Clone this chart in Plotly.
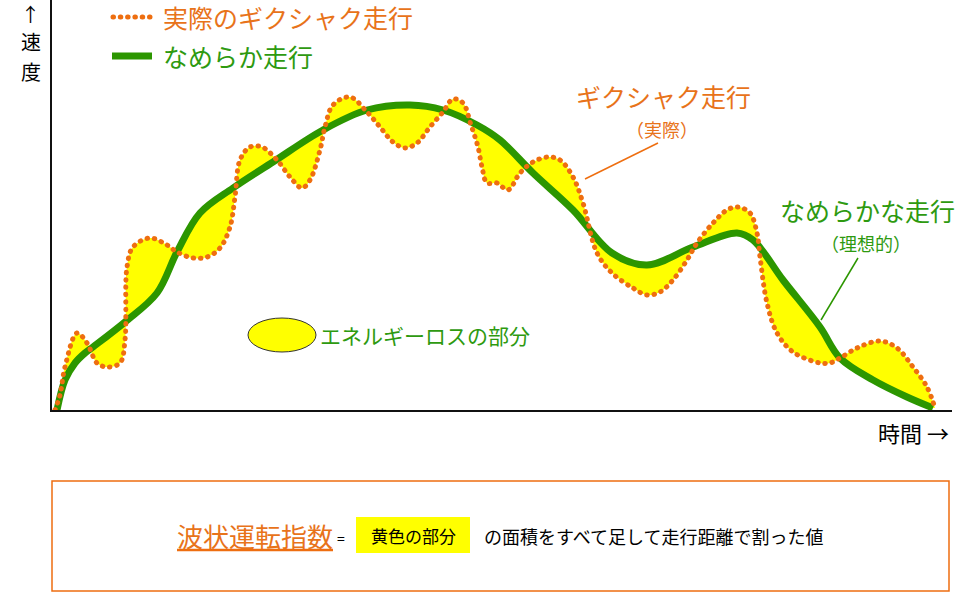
import plotly.graph_objects as go

W, H = 980, 616

# ---- data (time units along x, speed units along y) ----
smooth_t = [5, 13, 23, 33, 41, 73, 105, 125, 148, 181, 221, 271, 315, 358, 391, 425, 448,
            481, 521, 560, 595, 641, 685, 701, 731, 768, 788, 821, 855, 881]
smooth_v = [0, 30, 47, 57, 63, 88, 117, 158, 197, 222, 248, 280, 300, 305, 300, 285, 270,
            237, 200, 157, 145, 163, 177, 170, 130, 83, 52, 30, 13, 2]

jerky_t = [3, 8, 13, 25, 35, 45, 55, 68, 73, 75, 81, 98, 115, 125, 141, 155, 168, 178,
           183, 188, 198, 210, 225, 238, 250, 258, 268, 273, 281, 298, 315, 328, 341,
           353, 365, 378, 391, 401, 411, 419, 426, 430, 435, 445, 456, 468, 481, 496,
           508, 521, 531, 545, 560, 581, 595, 608, 621, 635, 645, 661, 675, 686, 698,
           705, 708, 715, 725, 741, 768, 778, 788, 805, 828, 845, 861, 875, 883]
jerky_v = [0, 15, 43, 77, 67, 47, 43, 47, 70, 143, 163, 172, 165, 158, 152, 153, 162, 183,
           213, 250, 263, 263, 250, 233, 222, 230, 260, 283, 305, 313, 298, 283, 268,
           262, 267, 283, 298, 311, 307, 285, 263, 243, 227, 227, 220, 237, 248, 253,
           250, 233, 207, 157, 137, 122, 115, 118, 130, 150, 167, 187, 200, 203, 197,
           177, 153, 107, 77, 58, 47, 47, 52, 62, 69, 62, 43, 23, 2]

legend_labels = ["実際のギクシャク走行", "なめらか走行"]
callout_jerky = ["ギクシャク走行", "（実際）"]
callout_smooth = ["なめらかな走行", "（理想的）"]
loss_label = "エネルギーロスの部分"
axis_y_label = ["↑", "速", "度"]
axis_x_label = "時間 →"
formula_parts = ["波状運転指数", "=", "黄色の部分", "の面積をすべて足して走行距離で割った値"]

# ---- styles ----
FONT = "Noto Sans CJK JP"
GREEN_LINE = "#2C9600"
GREEN_TEXT = "#2E9A10"
ORANGE_DOT = "#EE6E10"
ORANGE_TEXT = "#E8731A"
YELLOW = "#FFFF00"


def px(x):
    return x / W


def py(y):
    return 1 - y / H


fig = go.Figure()
fig.add_trace(go.Scatter(
    x=smooth_t, y=smooth_v, mode="lines",
    line=dict(color=GREEN_LINE, width=7, shape="spline", smoothing=1.0),
    hoverinfo="skip", showlegend=False))
fig.add_trace(go.Scatter(
    x=jerky_t, y=jerky_v, mode="lines", fill="tonexty", fillcolor=YELLOW,
    line=dict(color=ORANGE_DOT, width=5, shape="spline", smoothing=1.0, dash="0.5px,6.8px"),
    hoverinfo="skip", showlegend=False))

shapes = []
# legend samples
shapes.append(dict(type="line", xref="paper", yref="paper", x0=px(113), x1=px(150), y0=py(17), y1=py(17),
                   line=dict(color=ORANGE_DOT, width=5, dash="0.5px,6.8px")))
shapes.append(dict(type="line", xref="paper", yref="paper", x0=px(112), x1=px(152), y0=py(56), y1=py(56),
                   line=dict(color=GREEN_LINE, width=7)))
# leader lines
shapes.append(dict(type="line", xref="paper", yref="paper", x0=px(658), x1=px(585), y0=py(143), y1=py(179),
                   line=dict(color=ORANGE_DOT, width=1.5)))
shapes.append(dict(type="line", xref="paper", yref="paper", x0=px(858), x1=px(821), y0=py(258), y1=py(320),
                   line=dict(color=GREEN_LINE, width=1.5)))
# ellipse
shapes.append(dict(type="circle", xref="paper", yref="paper", x0=px(248), x1=px(316), y0=py(352), y1=py(318),
                   fillcolor=YELLOW, line=dict(color="#333333", width=1)))
# bottom box
shapes.append(dict(type="rect", xref="paper", yref="paper", x0=px(52), x1=px(949), y0=py(591), y1=py(481),
                   line=dict(color=ORANGE_DOT, width=1.5), fillcolor="rgba(0,0,0,0)"))
# underline
shapes.append(dict(type="line", xref="paper", yref="paper", x0=px(177), x1=px(333), y0=py(550), y1=py(550),
                   line=dict(color=ORANGE_DOT, width=2.5)))
# yellow highlight
shapes.append(dict(type="rect", xref="paper", yref="paper", x0=px(356), x1=px(470), y0=py(553), y1=py(517),
                   fillcolor=YELLOW, line=dict(width=0), layer="below"))

ann = []


def text(x, y, s, size, color, anchor="left", vanchor="middle"):
    ann.append(dict(xref="paper", yref="paper", x=px(x), y=py(y), text=s, showarrow=False,
                    xanchor=anchor, yanchor=vanchor,
                    font=dict(family=FONT, size=size, color=color)))


text(161, 17, legend_labels[0], 25, ORANGE_TEXT)
text(161, 56, legend_labels[1], 25, GREEN_TEXT)
text(663, 96, callout_jerky[0], 25, ORANGE_TEXT, "center")
text(662, 129, callout_jerky[1], 18, ORANGE_TEXT, "center")
text(867, 210, callout_smooth[0], 25, GREEN_TEXT, "center")
text(866, 243, callout_smooth[1], 18, GREEN_TEXT, "center")
text(318, 335, loss_label, 21, GREEN_TEXT)
text(31, 14, axis_y_label[0], 19, "#000000", "center")
text(31, 42, axis_y_label[1], 20, "#000000", "center")
text(31, 71, axis_y_label[2], 20, "#000000", "center")
text(913, 432, axis_x_label, 22, "#000000", "center")
text(255, 535, formula_parts[0], 26, ORANGE_TEXT, "center")
text(341, 538, formula_parts[1], 14, "#000000", "center")
text(413, 535, formula_parts[2], 17, "#000000", "center")
text(653, 536, formula_parts[3], 18, "#000000", "center")

fig.update_layout(
    width=W, height=H, margin=dict(l=0, r=0, t=0, b=0),
    paper_bgcolor="white", plot_bgcolor="white",
    xaxis=dict(domain=[px(52), px(952)], range=[0, 900], showgrid=False, zeroline=False,
               showticklabels=False, ticks="", showline=True, linecolor="#111111", linewidth=2),
    yaxis=dict(domain=[py(410), 1], range=[0, 410], showgrid=False, zeroline=False,
               showticklabels=False, ticks="", showline=True, linecolor="#111111", linewidth=2),
    shapes=shapes, annotations=ann, showlegend=False,
)

post = """
var gd = document.getElementById('{plot_id}');
function roundDots(){
  gd.querySelectorAll('path').forEach(function(p){
    var d = p.style.strokeDasharray;
    if (d && d !== 'none' && d !== '') { p.style.strokeLinecap = 'round'; }
  });
}
roundDots();
if (gd.on) { gd.on('plotly_afterplot', roundDots); }
"""

fig.write_html("out.html", post_script=post, config={"displayModeBar": False})
